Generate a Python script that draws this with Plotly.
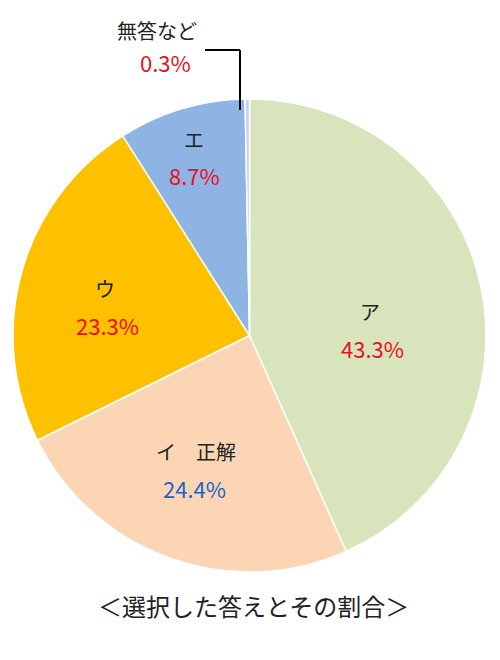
import plotly.graph_objects as go

labels = ["ア", "イ　正解", "ウ", "エ", "無答など"]
values = [43.3, 24.4, 23.3, 8.7, 0.3]
colors = ["#D8E4BC", "#FCD5B4", "#FFC000", "#8DB4E2", "#CCCCFF"]
pct_colors = ["#E8101E", "#1F62C4", "#E8101E", "#E8101E", "#E8101E"]
title_text = "＜選択した答えとその割合＞"

# page has an 8px body margin, so the figure is drawn 8px smaller and offset
OFF = 8
W, H = 500 - OFF, 660 - OFF
FONT = "Noto Sans CJK JP, Noto Sans, sans-serif"


def px(x, y):
    # window pixel -> paper coords
    return (x - OFF) / W, 1 - (y - OFF) / H


# label positions (window pixels) for name / percent
label_pos = [
    ((370, 311), (372, 348)),
    ((196, 452), (194, 488)),
    ((105, 288), (107, 325)),
    ((194, 140), (194, 175)),
    ((157, 30), (165, 62)),
]

x0, y0 = px(13, 572)
x1, y1 = px(486, 99)
fig = go.Figure(
    go.Pie(
        labels=labels,
        values=values,
        sort=False,
        direction="clockwise",
        rotation=0,
        marker=dict(colors=colors, line=dict(color="white", width=1.5)),
        textinfo="none",
        hoverinfo="label+percent",
        showlegend=False,
        domain=dict(x=[x0, x1], y=[y0, y1]),
    )
)

for lab, v, pc, (npos, ppos) in zip(labels, values, pct_colors, label_pos):
    ax, ay = px(*npos)
    fig.add_annotation(
        x=ax, y=ay, xref="paper", yref="paper", xanchor="center", yanchor="middle",
        text=lab, showarrow=False, font=dict(size=20, color="#222222", family=FONT),
    )
    ax, ay = px(*ppos)
    fig.add_annotation(
        x=ax, y=ay, xref="paper", yref="paper", xanchor="center", yanchor="middle",
        text=f"{v:.1f}%", showarrow=False, font=dict(size=22, color=pc, family=FONT),
    )

# leader line for the tiny slice
lx0, ly0 = px(205, 50)
lx1, ly1 = px(240, 50)
lx2, ly2 = px(240, 110)
fig.add_shape(type="line", xref="paper", yref="paper",
              x0=lx0, y0=ly0, x1=lx1, y1=ly1, line=dict(color="black", width=2))
fig.add_shape(type="line", xref="paper", yref="paper",
              x0=lx1, y0=ly1, x1=lx2, y1=ly2, line=dict(color="black", width=2))

tx, ty = px(253, 605)
fig.add_annotation(
    x=tx, y=ty, xref="paper", yref="paper", xanchor="center", yanchor="middle",
    text=title_text, showarrow=False, font=dict(size=24, color="#222222", family=FONT),
)

fig.update_layout(
    width=W,
    height=H,
    margin=dict(l=0, r=0, t=0, b=0),
    paper_bgcolor="white",
    plot_bgcolor="white",
)

fig.write_html("out.html")
